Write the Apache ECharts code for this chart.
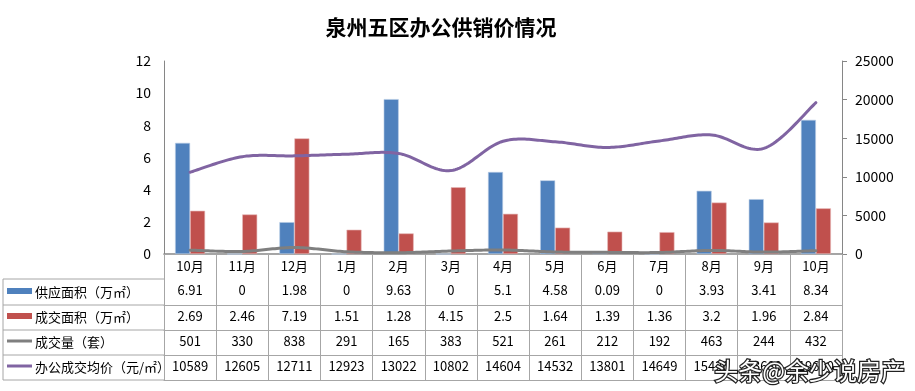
<!DOCTYPE html>
<html><head><meta charset="utf-8">
<script src="https://cdn.jsdelivr.net/npm/echarts@6/dist/echarts.min.js"></script>
<style>html,body{margin:0;padding:0;background:#fff}#c{width:915px;height:391px}</style>
</head><body><div id="c"></div>
<script>
const months = ['10月','11月','12月','1月','2月','3月','4月','5月','6月','7月','8月','9月','10月'];
const supplyArea = [6.91,0,1.98,0,9.63,0,5.1,4.58,0.09,0,3.93,3.41,8.34];
const dealArea = [2.69,2.46,7.19,1.51,1.28,4.15,2.5,1.64,1.39,1.36,3.2,1.96,2.84];
const dealCount = [501,330,838,291,165,383,521,261,212,192,463,244,432];
const avgPrice = [10589,12605,12711,12923,13022,10802,14604,14532,13801,14649,15420,13680,19600];
const rowNames = ['供应面积（万㎡）','成交面积（万㎡）','成交量（套）','办公成交均价（元/㎡）'];
const leftTicks = [0,2,4,6,8,10,12];
const rightTicks = [0,5000,10000,15000,20000,25000];

const FONT = '"Noto Sans CJK SC", "Noto Sans", sans-serif';
const C_BLUE = '#4f81bd', C_RED = '#c0504d', C_GRAY = '#7f7f7f', C_PURPLE = '#8064a2';
const LINE = '#a6a6a6';
const rows = [supplyArea, dealArea, dealCount, avgPrice];
const rowColors = [C_BLUE, C_RED, C_GRAY, C_PURPLE];
const rowIsBar = [true, true, false, false];
const offsets = [25, 51, 76, 101];

const xAxes = [{
  type: 'category', data: months, position: 'bottom', gridIndex: 0,
  axisLine: { lineStyle: { color: '#868686', width: 1.5 } },
  axisTick: { show: true, interval: 0, length: 126, lineStyle: { color: LINE } },
  axisLabel: { interval: 0, margin: 6, fontSize: 13, color: '#000', fontFamily: FONT }
}];
rows.forEach((arr, r) => {
  xAxes.push({
    type: 'category', data: months, position: 'bottom', offset: offsets[r],
    axisLine: { lineStyle: { color: LINE } },
    axisTick: { show: false },
    axisLabel: { interval: 0, margin: 5, fontSize: 13, color: '#000', fontFamily: FONT,
      formatter: (v, i) => String(arr[i]) }
  });
});
xAxes.push({ type: 'category', data: months, position: 'bottom', offset: 126,
  axisLine: { lineStyle: { color: LINE } }, axisTick: { show: false }, axisLabel: { show: false } });

const graphics = [];
[279, 305, 330, 355, 380].forEach(y => graphics.push({ type: 'line', shape: { x1: 3, y1: y, x2: 164, y2: y }, style: { stroke: LINE, lineWidth: 1 }, silent: true }));
graphics.push({ type: 'line', shape: { x1: 3, y1: 279, x2: 3, y2: 380 }, style: { stroke: LINE, lineWidth: 1 } });
rowNames.forEach((name, r) => {
  const cy = [292, 317, 342, 367][r];
  if (rowIsBar[r]) graphics.push({ type: 'rect', shape: { x: 7, y: cy - 4, width: 25, height: 6 }, style: { fill: rowColors[r] } });
  else graphics.push({ type: 'line', shape: { x1: 7, y1: cy - 1, x2: 32, y2: cy - 1 }, style: { stroke: rowColors[r], lineWidth: 3 } });
  graphics.push({ type: 'text', x: 35, y: cy, style: { text: name, font: '13px ' + FONT, fill: '#000', textVerticalAlign: 'middle', verticalAlign: 'middle' } });
});
graphics.push({ type: 'text', x: 441, y: 27, style: { text: '泉州五区办公供销价情况', font: 'bold 21px ' + FONT, fill: '#000', textAlign: 'center', align: 'center', verticalAlign: 'middle', textVerticalAlign: 'middle' } });
graphics.push({ type: 'text', x: 905, y: 371, z: 100, style: { text: '头条@余少说房产', font: '24px ' + FONT, fill: '#fff', stroke: '#222', lineWidth: 2.5, textAlign: 'right', align: 'right', verticalAlign: 'middle', textVerticalAlign: 'middle' } });

// Excel-like smoothed line (Catmull-Rom, tension 1/6) drawn through the axis scales
function smoothLine(values, color) {
  return {
    type: 'custom', yAxisIndex: 1, xAxisIndex: 0, z: 3,
    data: values.map((v, i) => [i, v]),
    renderItem: (params, api) => {
      if (params.dataIndex !== 0) return null;
      const P = values.map((v, i) => api.coord([i, v]));
      const pts = [];
      const n = P.length;
      for (let i = 0; i < n - 1; i++) {
        const p0 = P[Math.max(0, i - 1)], p1 = P[i], p2 = P[i + 1], p3 = P[Math.min(n - 1, i + 2)];
        const c1 = [p1[0] + (p2[0] - p0[0]) / 6, p1[1] + (p2[1] - p0[1]) / 6];
        const c2 = [p2[0] - (p3[0] - p1[0]) / 6, p2[1] - (p3[1] - p1[1]) / 6];
        const steps = 24;
        for (let s = (i === 0 ? 0 : 1); s <= steps; s++) {
          const t = s / steps, u = 1 - t;
          pts.push([
            u*u*u*p1[0] + 3*u*u*t*c1[0] + 3*u*t*t*c2[0] + t*t*t*p2[0],
            u*u*u*p1[1] + 3*u*u*t*c1[1] + 3*u*t*t*c2[1] + t*t*t*p2[1]
          ]);
        }
      }
      return { type: 'polyline', shape: { points: pts }, style: { stroke: color, lineWidth: 3, fill: null, lineJoin: 'round', lineCap: 'round' } };
    }
  };
}

const chart = echarts.init(document.getElementById('c'));
chart.setOption({
  animation: false,
  backgroundColor: '#fff',
  textStyle: { fontFamily: FONT },
  grid: { left: 164, right: 73, top: 61, bottom: 137, containLabel: false },
  xAxis: xAxes,
  yAxis: [{
    type: 'value', min: leftTicks[0], max: leftTicks[leftTicks.length - 1], interval: 2,
    axisLine: { show: true, lineStyle: { color: '#868686' } }, axisTick: { show: false },
    splitLine: { show: false },
    axisLabel: { fontSize: 14, color: '#000', margin: 13, fontFamily: FONT }
  }, {
    type: 'value', min: rightTicks[0], max: rightTicks[rightTicks.length - 1], interval: 5000,
    axisLine: { show: true, lineStyle: { color: '#868686' } }, axisTick: { show: true, length: 5, lineStyle: { color: '#868686' } },
    splitLine: { show: false },
    axisLabel: { fontSize: 14, color: '#000', margin: 13, fontFamily: FONT, formatter: v => String(v) }
  }],
  series: [
    { name: rowNames[0], type: 'bar', data: supplyArea, barWidth: 15, barGap: '0%', itemStyle: { color: C_BLUE, borderColor: '#b9cde5', borderWidth: 0.6 } },
    { name: rowNames[1], type: 'bar', data: dealArea, barWidth: 15, barGap: '0%', itemStyle: { color: C_RED, borderColor: '#e6b9b8', borderWidth: 0.6 } },
    Object.assign({ name: rowNames[2] }, smoothLine(dealCount, C_GRAY)),
    Object.assign({ name: rowNames[3] }, smoothLine(avgPrice, C_PURPLE))
  ],
  graphic: graphics
});
</script></body></html>
